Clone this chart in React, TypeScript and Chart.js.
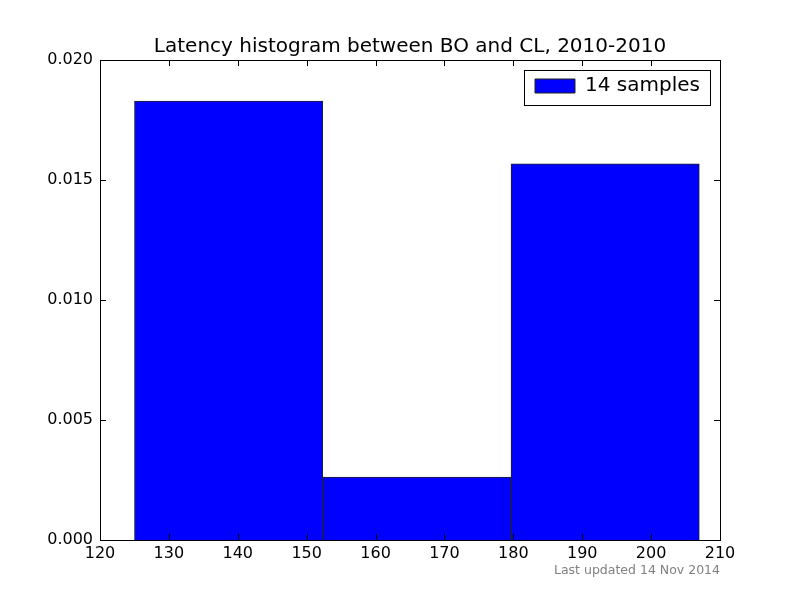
import { useEffect, useRef } from 'react';
import { Chart, registerables } from 'chart.js';

Chart.register(...registerables);

// Data
const binCenters = [138.67, 166.0, 193.33];
const densities = [0.01829, 0.00262, 0.01567];
const seriesLabel = '14 samples';
const xTickValues = [120, 130, 140, 150, 160, 170, 180, 190, 200, 210];
const yTickValues = [0, 0.005, 0.01, 0.015, 0.02];
const titleText = 'Latency histogram between BO and CL, 2010-2010';
const footerText = 'Last updated 14 Nov 2014';

const FONT = '"DejaVu Sans", Verdana, sans-serif';

const framePlugin = {
  id: 'mplFrame',
  afterLayout(chart: any) {
    const lg = chart.legend;
    const ca = chart.chartArea;
    if (lg && ca) {
      const w = lg.width;
      const h = lg.height;
      lg.left = ca.right - 195;
      lg.top = ca.top + 6;
      lg.right = lg.left + w;
      lg.bottom = lg.top + h;
    }
  },
  afterDatasetsDraw(chart: any) {
    const { ctx, chartArea } = chart;
    const { left, right, top, bottom } = chartArea;
    const xs = chart.scales.x;
    const ys = chart.scales.y;
    const len = 6;
    ctx.save();
    ctx.strokeStyle = '#000';
    ctx.lineWidth = 1;
    ctx.beginPath();
    xs.ticks.forEach((t: any) => {
      const px = Math.round(xs.getPixelForValue(t.value)) + 0.5;
      ctx.moveTo(px, bottom);
      ctx.lineTo(px, bottom - len);
      ctx.moveTo(px, top);
      ctx.lineTo(px, top + len);
    });
    ys.ticks.forEach((t: any) => {
      const py = Math.round(ys.getPixelForValue(t.value)) + 0.5;
      ctx.moveTo(left, py);
      ctx.lineTo(left + len, py);
      ctx.moveTo(right, py);
      ctx.lineTo(right - len, py);
    });
    ctx.stroke();
    ctx.strokeRect(Math.round(left) + 0.5, Math.round(top) + 0.5, Math.round(right - left), Math.round(bottom - top));
    ctx.restore();
  },
  afterDraw(chart: any) {
    const { ctx, chartArea } = chart;
    ctx.save();
    // legend frame
    const x0 = Math.round(chartArea.right - 196) + 0.5;
    const x1 = Math.round(chartArea.right - 10) + 0.5;
    const y0 = Math.round(chartArea.top + 10) + 0.5;
    ctx.strokeStyle = '#000';
    ctx.lineWidth = 1;
    ctx.strokeRect(x0, y0, x1 - x0, 35);
    // footer
    ctx.fillStyle = '#808080';
    ctx.font = `12.5px ${FONT}`;
    ctx.textAlign = 'right';
    ctx.textBaseline = 'alphabetic';
    ctx.fillText(footerText, chartArea.right, 574);
    ctx.restore();
  },
};

export default function App() {
  const canvasRef = useRef<HTMLCanvasElement | null>(null);

  useEffect(() => {
    if (!canvasRef.current) return;
    Chart.defaults.font.family = FONT;
    Chart.defaults.color = '#000';
    const chart = new Chart(canvasRef.current, {
      type: 'bar',
      data: {
        datasets: [
          {
            label: seriesLabel,
            data: binCenters.map((x, i) => ({ x, y: densities[i] })),
            backgroundColor: '#0000ff',
            borderColor: '#222222',
            borderWidth: 1,
            barPercentage: 1,
            categoryPercentage: 1,
            xAxisID: 'xb',
            yAxisID: 'y',
          },
        ],
      },
      options: {
        responsive: false,
        animation: false,
        layout: { padding: { left: 0, right: 80, top: 0, bottom: 0 } },
        scales: {
          xb: {
            type: 'linear',
            position: 'bottom',
            display: false,
            min: 120,
            max: 210,
            offset: false,
            afterBuildTicks: (scale: any) => {
              scale.ticks = [{ value: 120 }];
            },
          },
          x: {
            type: 'linear',
            position: 'bottom',
            min: 120,
            max: 210,
            offset: false,
            grid: { display: false, drawTicks: false },
            border: { display: false },
            afterBuildTicks: (scale: any) => {
              scale.ticks = xTickValues.map((v) => ({ value: v }));
            },
            afterFit: (scale: any) => {
              scale.height = 60;
            },
            ticks: {
              autoSkip: false,
              maxRotation: 0,
              padding: 4,
              font: { size: 16 },
              color: '#000',
              callback: (v: any) => String(v),
            },
          },
          y: {
            type: 'linear',
            position: 'left',
            min: 0,
            max: 0.02,
            grid: { display: false, drawTicks: false },
            border: { display: false },
            afterBuildTicks: (scale: any) => {
              scale.ticks = yTickValues.map((v) => ({ value: v }));
            },
            afterFit: (scale: any) => {
              scale.width = 100;
            },
            ticks: {
              autoSkip: false,
              padding: 7,
              font: { size: 16 },
              color: '#000',
              callback: (v: any) => Number(v).toFixed(3),
            },
          },
        },
        plugins: {
          title: {
            display: true,
            fullSize: false,
            text: titleText,
            color: '#000',
            font: { size: 20, weight: 'normal' },
            padding: { top: 35, bottom: 1 },
          },
          legend: {
            display: true,
            position: 'chartArea',
            align: 'start',
            labels: {
              boxWidth: 40,
              boxHeight: 14,
              padding: 10,
              color: '#000',
              font: { size: 20 },
            },
          },
          tooltip: { enabled: false },
        },
      },
      plugins: [framePlugin],
    } as any);
    return () => chart.destroy();
  }, []);

  return (
    <div style={{ position: 'absolute', left: 0, top: 0, width: 800, height: 600, background: '#fff' }}>
      <canvas ref={canvasRef} width={800} height={600} />
    </div>
  );
}
